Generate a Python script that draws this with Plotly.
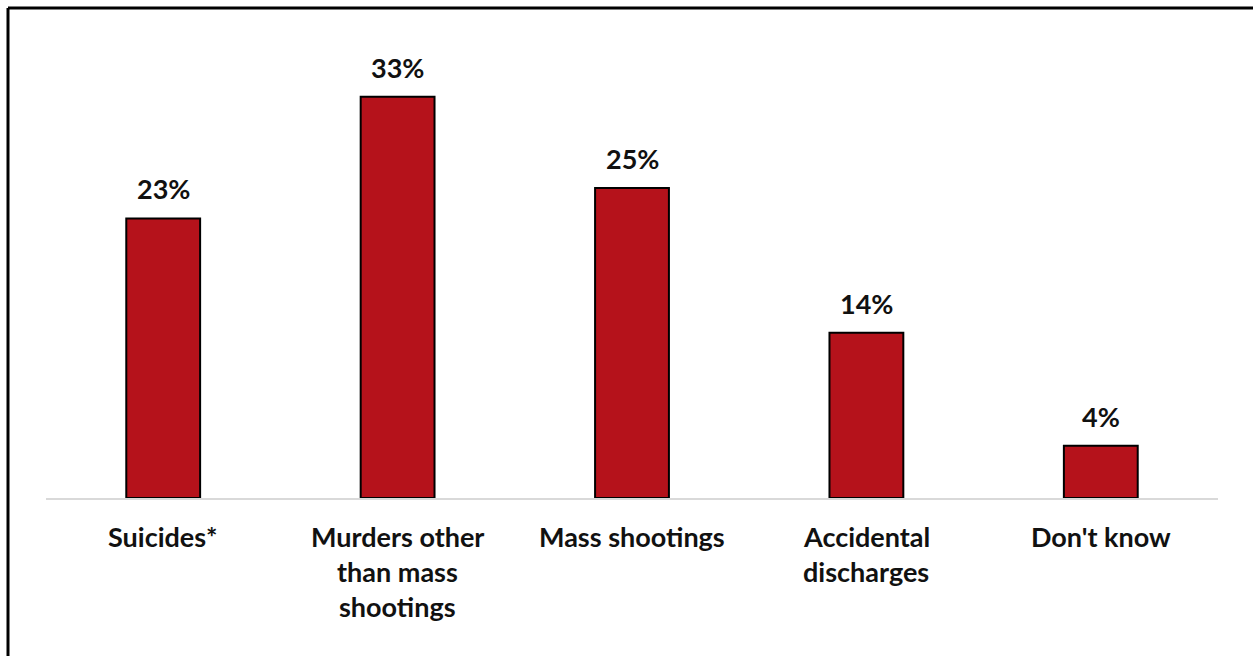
import plotly.graph_objects as go

categories = ["Suicides*", "Murders other than mass shootings", "Mass shootings",
              "Accidental discharges", "Don't know"]
label_lines = [["Suicides*"], ["Murders other", "than mass", "shootings"], ["Mass shootings"],
               ["Accidental", "discharges"], ["Don't know"]]
values = [23.0, 33.0, 25.5, 13.6, 4.3]
value_labels = ["23%", "33%", "25%", "14%", "4%"]

FONT = "Lato"
W, H = 1253, 656
L, R, T, B = 46, 35, 30, 158

fig = go.Figure()
fig.add_trace(go.Bar(
    x=categories, y=values,
    marker=dict(color="#B5121B", line=dict(color="#000000", width=2)),
    width=0.315, cliponaxis=False, hoverinfo="skip",
))

for i, lab in enumerate(value_labels):
    fig.add_annotation(
        x=categories[i], y=values[i], xref="x", yref="y",
        text=lab, showarrow=False, yanchor="bottom", yshift=11,
        font=dict(family=FONT, size=27, color="#111111", weight="bold"),
    )

plot_w = W - L - R
plot_h = H - T - B
for i, lines in enumerate(label_lines):
    for j, line in enumerate(lines):
        fig.add_annotation(
            x=categories[i], y=0, xref="x", yref="y",
            text=line, showarrow=False,
            yanchor="middle", yshift=-(38 + 35 * j),
            font=dict(family=FONT, size=27, color="#111111", weight="bold"),
        )

# frame (top and left edges of the picture border)
fx0 = (8 - L) / plot_w
fy0 = (H - B - 8) / plot_h
fig.add_shape(type="line", xref="paper", yref="paper", x0=fx0, x1=(W + 10 - L) / plot_w,
              y0=fy0, y1=fy0, line=dict(color="#000000", width=3))
fig.add_shape(type="line", xref="paper", yref="paper", x0=fx0, x1=fx0,
              y0=fy0, y1=-(B + 10) / plot_h, line=dict(color="#000000", width=3))

fig.update_layout(
    width=W, height=H,
    margin=dict(l=L, r=R, t=T, b=B),
    paper_bgcolor="white", plot_bgcolor="white",
    showlegend=False,
    font=dict(family=FONT),
    xaxis=dict(showticklabels=False, showline=True, linecolor="#d9d9d9", linewidth=2,
               ticks="", showgrid=False, zeroline=False),
    yaxis=dict(range=[0, 38.5], visible=False, showgrid=False, zeroline=False),
)

fig.write_html("out.html")
